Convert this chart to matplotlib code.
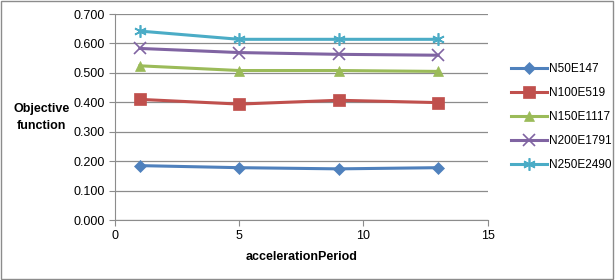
import numpy as np
import matplotlib
matplotlib.use("Agg")
import matplotlib.pyplot as plt

# acceleration periods and objective values per network
periods = [1, 5, 9, 13]
n50 = [0.185, 0.178, 0.174, 0.178]
n100 = [0.410, 0.394, 0.407, 0.399]
n150 = [0.524, 0.508, 0.508, 0.505]
n200 = [0.583, 0.569, 0.563, 0.560]
n250 = [0.642, 0.614, 0.614, 0.614]
labels = ["N50E147", "N100E519", "N150E1117", "N200E1791", "N250E2490"]

plt.rcParams['font.family'] = ['Liberation Sans', 'DejaVu Sans']

fig = plt.figure(figsize=(6.15, 2.8), dpi=100)
fig.patches.append(plt.Rectangle((0.002, 0.004), 0.995, 0.992, transform=fig.transFigure,
                                 fill=False, edgecolor='#8c8c8c', linewidth=1))
ax = fig.add_axes([0.187, 0.214, 0.606, 0.736])

series = [n50, n100, n150, n200, n250]
colors = ['#4F81BD', '#C0504D', '#9BBB59', '#8064A2', '#4BACC6']
markers = ['D', 's', '^', 'x', (6, 2, 0)]
sizes = [6, 8, 7, 8, 9]

for vals, lab, c, m, s in zip(series, labels, colors, markers, sizes):
    ax.plot(periods, vals, color=c, linewidth=2.2, marker=m, markersize=s,
            markeredgewidth=1.2 if m in ('x',) or isinstance(m, tuple) else 0.5,
            markeredgecolor=c, label=lab)

ax.set_xlim(0, 15)
ax.set_ylim(0, 0.7)
ax.set_xticks([0, 5, 10, 15])
ax.set_yticks(np.arange(0, 0.71, 0.1))
ax.set_yticklabels([f"{v:.3f}" for v in np.arange(0, 0.71, 0.1)])
ax.yaxis.grid(True, color='#8c8c8c', linewidth=0.9)
ax.set_axisbelow(True)
for sp in ['top', 'right']:
    ax.spines[sp].set_visible(False)
for sp in ['left', 'bottom']:
    ax.spines[sp].set_color('#8c8c8c')
ax.tick_params(axis='both', colors='#8c8c8c', labelcolor='black', labelsize=9, length=4)

ax.set_xlabel("accelerationPeriod", fontsize=9, fontweight='bold', labelpad=6)
fig.text(0.067, 0.58, "Objective\nfunction", fontsize=9, fontweight='bold',
         ha='center', va='center', linespacing=1.5)

ax.legend(loc='center left', bbox_to_anchor=(1.035, 0.5), frameon=False,
          fontsize=8.5, handlelength=3, labelspacing=1.0, handletextpad=0.2)

fig.savefig("out.png", dpi=100)
